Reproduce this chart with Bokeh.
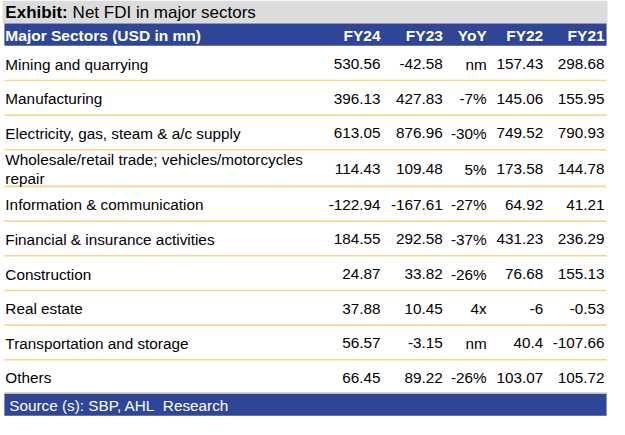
from bokeh.plotting import figure
from bokeh.models import Range1d
from bokeh.core.properties import value
from bokeh.embed import file_html
from bokeh.resources import INLINE

title_bold = "Exhibit:"
title_rest = "Net FDI in major sectors"
header_label = "Major Sectors (USD in mn)"
col_labels = ["FY24", "FY23", "YoY", "FY22", "FY21"]
source_note = "Source (s): SBP, AHL\u00a0 Research"

sectors = [
    "Mining and quarrying",
    "Manufacturing",
    "Electricity, gas, steam & a/c supply",
    "Wholesale/retail trade; vehicles/motorcycles\nrepair",
    "Information & communication",
    "Financial & insurance activities",
    "Construction",
    "Real estate",
    "Transportation and storage",
    "Others",
]
fy24 = [530.56, 396.13, 613.05, 114.43, -122.94, 184.55, 24.87, 37.88, 56.57, 66.45]
fy23 = [-42.58, 427.83, 876.96, 109.48, -167.61, 292.58, 33.82, 10.45, -3.15, 89.22]
yoy = ["nm", "-7%", "-30%", "5%", "-27%", "-37%", "-26%", "4x", "nm", "-26%"]
fy22 = [157.43, 145.06, 749.52, 173.58, 64.92, 431.23, 76.68, -6, 40.4, 103.07]
fy21 = [298.68, 155.95, 790.93, 144.78, 41.21, 236.29, 155.13, -0.53, -107.66, 105.72]

# layout (in reference pixel units)
FONT = "Liberation Sans"
NAVY = "#2F4595"
GRAY = "#DCDCDC"
SEP = "#F9D68E"
row_h = [36, 36, 36, 38, 36, 36, 36, 36, 36, 35]
col_right = [390, 454, 499, 557, 620]
top0 = 47
BODY_FS = "15.3px"

p = figure(width=609, height=419, output_backend="svg", toolbar_location=None,
           x_range=Range1d(0, 625), y_range=Range1d(435, 0), min_border=0,
           background_fill_color="white", border_fill_color="white")
p.axis.visible = False
p.grid.visible = False
p.outline_line_color = None

# bars
p.quad(left=[2], right=[623], top=[0], bottom=[24], color=GRAY, line_color=None)
p.quad(left=[4], right=[622], top=[24], bottom=[47], color=NAVY, line_color=None)

tops, bots, mids = [], [], []
y = top0
for h in row_h:
    tops.append(y)
    bots.append(y + h)
    mids.append(y + h / 2 + 1)
    y += h
p.quad(left=[4], right=[622], top=[bots[-1]], bottom=[bots[-1] + 23], color=NAVY, line_color=None)

# separators
n_sep = len(bots) - 1
p.segment(x0=[4.0] * n_sep, x1=[622.0] * n_sep, y0=[float(b) for b in bots[:-1]],
          y1=[float(b) for b in bots[:-1]], line_color=SEP, line_width=1.6)
p.segment(x0=[4.0], x1=[622.0], y0=[bots[-1] - 0.8], y1=[bots[-1] - 0.8],
          line_color="#E3D6C0", line_width=1.5)

# title
p.text(x=[5], y=[12.5], text=[title_bold], text_font=value(FONT), text_font_style="bold",
       text_font_size="17px", text_baseline="middle", text_color="black")
p.text(x=[74], y=[12.5], text=[title_rest], text_font=value(FONT),
       text_font_size="17px", text_baseline="middle", text_color="black")

# header
p.text(x=[5], y=[36], text=[header_label], text_font=value(FONT), text_font_style="bold",
       text_font_size="15.5px", text_baseline="middle", text_color="white")
p.text(x=col_right, y=[36] * len(col_labels), text=col_labels, text_font=value(FONT),
       text_font_style="bold", text_font_size="15.5px", text_baseline="middle",
       text_align="right", text_color="white")

# body
p.text(x=[5] * len(sectors), y=mids, text=sectors, text_font=value(FONT),
       text_font_size=BODY_FS, text_baseline="middle", text_color="black", text_line_height=1.15)


def fmt(v):
    return f"{v:g}"


cols = [[fmt(v) for v in fy24], [fmt(v) for v in fy23], yoy,
        [fmt(v) for v in fy22], [fmt(v) for v in fy21]]
for xr, vals in zip(col_right, cols):
    p.text(x=[xr] * len(vals), y=mids, text=vals, text_font=value(FONT),
           text_font_size=BODY_FS, text_baseline="middle", text_align="right", text_color="black")

# footer
p.text(x=[9], y=[bots[-1] + 12], text=[source_note], text_font=value(FONT),
       text_font_size=BODY_FS, text_baseline="middle", text_color="white")

open("out.html", "w").write(file_html(p, INLINE))
